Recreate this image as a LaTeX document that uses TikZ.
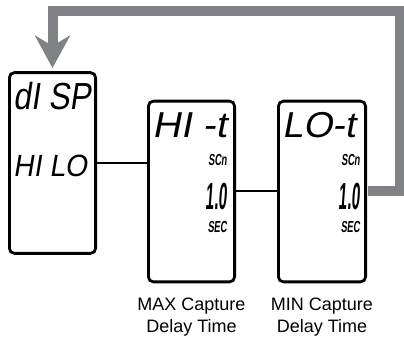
\documentclass[tikz,border=0pt]{standalone}
\usepackage{fontspec}
\setmainfont{Liberation Sans}
\newfontfamily\lcdfont[FakeSlant=0.18, BoldFeatures={FakeSlant=0.18}]{Liberation Sans}
\usepackage{tikz}
\usetikzlibrary{arrows.meta}
\definecolor{loopgray}{RGB}{128,130,133}

\begin{document}
\begin{tikzpicture}[x=1pt, y=-1pt, >=Stealth,
    panel/.style={draw, line width=2.8pt, rounded corners=5pt, minimum width=86.2pt, minimum height=180.7pt, inner sep=0pt},
    lcd/.style={inner sep=0pt, font=\lcdfont\fontsize{#1}{#1}\selectfont},
    lcdb/.style={inner sep=0pt, font=\lcdfont\bfseries\fontsize{#1}{#1}\selectfont},
    caption/.style={inner sep=0pt, anchor=north, align=center, font=\fontsize{18}{21.5}\selectfont}]
    \useasboundingbox (0,0) rectangle (404,339);
    \node[panel] (disp) at (52.5,163) {};
    \node[panel] (hit) at (191.5,191.5) {};
    \node[panel, minimum width=87.2pt] (lot) at (322,191.5) {};
    \node[lcd=37.7, anchor=base west, xscale=0.84] (dispTop) at (13,110) {dI SP};
    \node[lcd=30.7, anchor=base west, xscale=0.92] (dispBot) at (13,177) {HI LO};
    \node[lcd=36, anchor=base west, xscale=1.09] (hitTop) at (152,138) {HI -t};
    \node[lcdb=16, anchor=base east, xscale=0.58] (hitScan) at (227,166) {SCn};
    \node[lcdb=37.7, anchor=base east, xscale=0.4] (hitVal) at (227,210) {1.0};
    \node[lcdb=16, anchor=base east, xscale=0.58] (hitUnit) at (227,233) {SEC};
    \node[lcd=36, anchor=base west, xscale=1.04] (lotTop) at (282,138) {LO-t};
    \node[lcdb=16, anchor=base east, xscale=0.58] (lotScan) at (360,166) {SCn};
    \node[lcdb=37.7, anchor=base east, xscale=0.4] (lotVal) at (360,210) {1.0};
    \node[lcdb=16, anchor=base east, xscale=0.58] (lotUnit) at (360,233) {SEC};
    \node[caption] (maxLabel) at (191.5,298) {MAX Capture\\Delay Time};
    \node[caption] (minLabel) at (322,298) {MIN Capture\\Delay Time};
    \draw[line width=2pt] (disp.east) -- (disp.east -| hit.west);
    \draw[line width=2pt] (hit.east) -- (lot.west);
    \coordinate (corner) at (399.5,11);
    \coordinate (tip) at (52.5,68);
    \draw[loopgray, line width=10pt, shorten <=1.4pt, -{Stealth[length=33pt, width=36pt, inset=11pt, line width=0pt]}] (lot.east) -| (corner) -| (tip);
\end{tikzpicture}
\end{document}
